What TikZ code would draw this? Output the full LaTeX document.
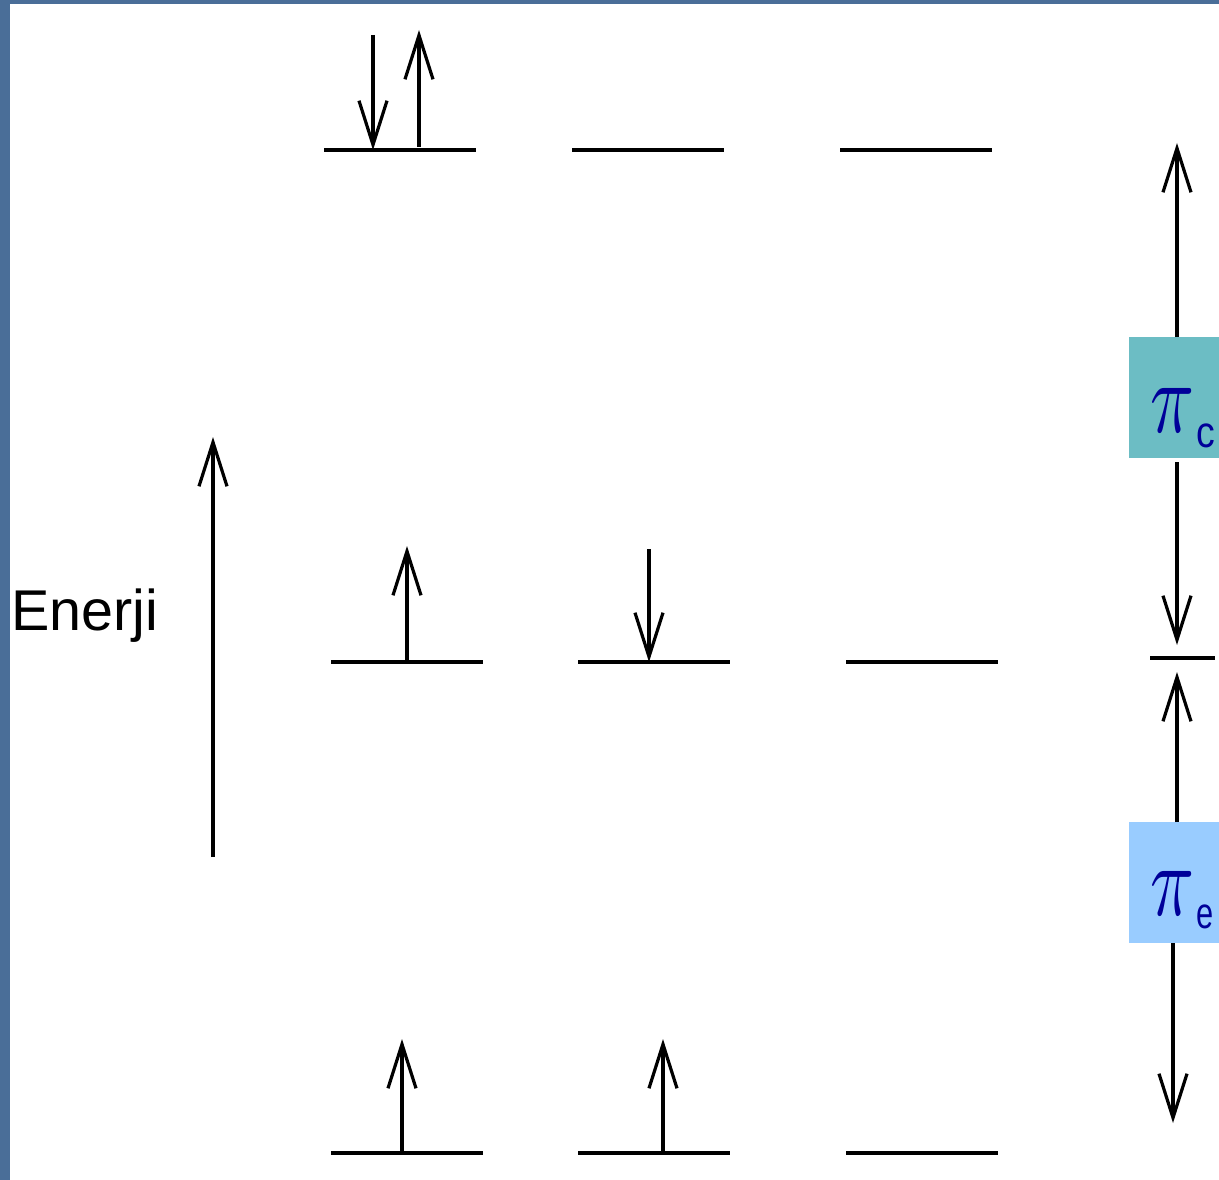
\documentclass[tikz,border=0pt]{standalone}
\usepackage{fontspec}
\setmainfont{Liberation Sans}
\usetikzlibrary{arrows.meta}
\definecolor{slideframe}{HTML}{4A6E98}
\definecolor{boxteal}{HTML}{6CBDC4}
\definecolor{boxsky}{HTML}{99CCFF}
\definecolor{labelblue}{HTML}{000099}
\tikzset{
  level/.style={line width=3.2pt},
  spin/.style={line width=3.2pt, -{Straight Barb[length=44pt,width=28pt,line width=3.2pt]}},
  orbbox/.style={inner sep=0pt, minimum width=90pt, minimum height=121pt, anchor=north west},
  pilabel/.style={text=labelblue, inner sep=0pt, anchor=south west},
  sublabel/.style={text=labelblue, font=\fontsize{44}{44}\selectfont, inner sep=0pt, anchor=base west}
}
\newcommand{\bigpi}{\resizebox{44pt}{44pt}{$\pi$}}
\begin{document}
\begin{tikzpicture}[x=1pt,y=-1pt]
\useasboundingbox (0,0) rectangle (1219,1180);
% slide frame and white canvas
\fill[slideframe] (0,0) rectangle (1219,1180);
\fill[white] (10,4) rectangle (1219,1180);

% energy levels: three rows of three orbitals
\coordinate (a1) at (324,150);  \coordinate (a1e) at (476,150);
\coordinate (a2) at (572,150);  \coordinate (a2e) at (724,150);
\coordinate (a3) at (840,150);  \coordinate (a3e) at (992,150);
\coordinate (b1) at (331,662);  \coordinate (b1e) at (483,662);
\coordinate (b2) at (578,662);  \coordinate (b2e) at (730,662);
\coordinate (b3) at (846,662);  \coordinate (b3e) at (998,662);
\coordinate (c1) at (331,1153); \coordinate (c1e) at (483,1153);
\coordinate (c2) at (578,1153); \coordinate (c2e) at (730,1153);
\coordinate (c3) at (846,1153); \coordinate (c3e) at (998,1153);
\foreach \l in {a1,a2,a3,b1,b2,b3,c1,c2,c3}
  \draw[level] (\l) -- (\l e);

% electron spins
\coordinate (s1top) at (373,35);   \coordinate (s1bot) at (373,150);
\coordinate (s2bot) at (419,147);  \coordinate (s2top) at (419,30);
\draw[spin] (s1top) -- (s1bot);
\draw[spin] (s2bot) -- (s2top);
\coordinate (s3bot) at (407,662);  \coordinate (s3top) at (407,546);
\coordinate (s4top) at (649,549);  \coordinate (s4bot) at (649,662);
\draw[spin] (s3bot) -- (s3top);
\draw[spin] (s4top) -- (s4bot);
\coordinate (s5bot) at (402,1153); \coordinate (s5top) at (402,1039);
\coordinate (s6bot) at (663,1153); \coordinate (s6top) at (663,1039);
\draw[spin] (s5bot) -- (s5top);
\draw[spin] (s6bot) -- (s6top);

% energy axis
\coordinate (eb) at (213,857); \coordinate (et) at (213,437);
\draw[spin] (eb) -- (et);
\node[font=\fontsize{57.5}{57.5}\selectfont, anchor=base west, inner sep=0pt] (enerji) at (11,630) {Enerji};

% splitting diagram on the right
\node[orbbox, fill=boxteal] (pc) at (1129,337) {};
\node[orbbox, fill=boxsky] (pe) at (1129,822) {};
\node[pilabel] (pcpi) at (1150,433) {\bigpi};
\node[sublabel] (pcsub) at (1196,447) {\scalebox{0.85}[1]{c}};
\node[pilabel] (pepi) at (1150,916) {\bigpi};
\node[sublabel] (pesub) at (1196,928) {\scalebox{0.7}[1]{e}};

\coordinate (ctop) at (1177,143);
\coordinate (cmid) at (1177,645);
\coordinate (ml) at (1150,658); \coordinate (mr) at (1215,658);
\coordinate (emid) at (1177,672);
\coordinate (ebot) at (1173,1123);
\draw[spin] (pc.north -| ctop) -- (ctop);
\draw[spin] ([yshift=-4pt]pc.south -| cmid) -- (cmid);
\draw[level] (ml) -- (mr);
\draw[spin] (pe.north -| emid) -- (emid);
\draw[spin] (pe.south -| ebot) -- (ebot);
\end{tikzpicture}
\end{document}
